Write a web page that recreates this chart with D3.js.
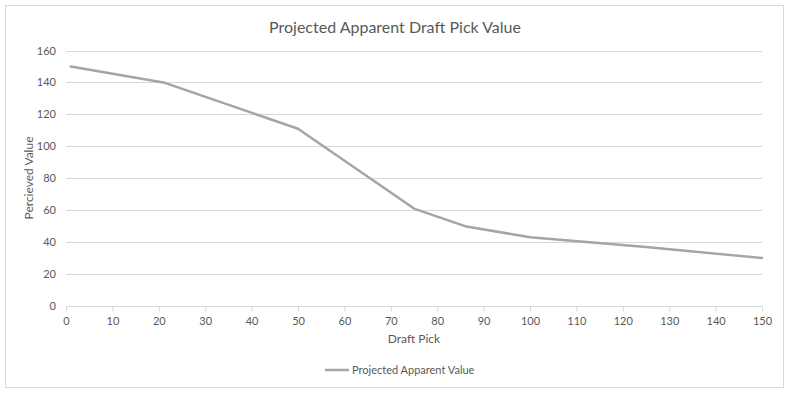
<!DOCTYPE html>
<html><head><meta charset="utf-8">
<script src="https://cdn.jsdelivr.net/npm/d3@7"></script>
<style>body{margin:0;background:#fff}svg{display:block}text{font-family:Lato,"Open Sans",sans-serif;fill:#595959}</style>
</head><body>
<script>
const picks = [1, 21, 50, 75, 86, 100, 125, 150];
const values = [150, 140, 111, 61, 50, 43, 37, 30];
const xTicks = d3.range(0, 151, 10);
const yTicks = d3.range(0, 161, 20);
const title = "Projected Apparent Draft Pick Value";
const seriesName = "Projected Apparent Value";

const W = 789, H = 394;
const svg = d3.select("body").append("svg").attr("width", W).attr("height", H);
svg.append("rect").attr("x", 5.5).attr("y", 5.5).attr("width", 778).attr("height", 382)
  .attr("fill", "#fff").attr("stroke", "#d9d9d9");

const x = d3.scaleLinear().domain([0, 150]).range([66, 762]);
const y = d3.scaleLinear().domain([0, 160]).range([306, 50.5]);

svg.append("g").selectAll("line").data(yTicks.filter(d => d > 0)).join("line")
  .attr("x1", x(0)).attr("x2", x(150)).attr("y1", d => Math.round(y(d)) + 0.5).attr("y2", d => Math.round(y(d)) + 0.5)
  .attr("stroke", "#d9d9d9");

const xa = svg.append("g").attr("transform", `translate(0,${Math.round(y(0)) + 0.5})`)
  .call(d3.axisBottom(x).tickValues(xTicks).tickSize(5).tickPadding(6));
xa.select(".domain").attr("stroke", "#d9d9d9").attr("d", `M${x(0)},0H${x(150)}`);
xa.selectAll(".tick line").attr("stroke", "#d9d9d9");
xa.selectAll("text").attr("font-size", 11).style("fill", "#595959");

const ya = svg.append("g").attr("transform", `translate(${x(0)},0)`)
  .call(d3.axisLeft(y).tickValues(yTicks).tickSize(0).tickPadding(10));
ya.select(".domain").remove();
ya.selectAll("text").attr("font-size", 11).style("fill", "#595959");

svg.append("path").datum(picks.map((p, i) => [p, values[i]]))
  .attr("fill", "none").attr("stroke", "#a5a5a5").attr("stroke-width", 2.5)
  .attr("stroke-linejoin", "round").attr("stroke-linecap", "round")
  .attr("d", d3.line().x(d => x(d[0])).y(d => y(d[1])));

svg.append("text").attr("x", 395).attr("y", 33).attr("text-anchor", "middle")
  .attr("font-size", 16).text(title);
svg.append("text").attr("x", 414).attr("y", 343).attr("text-anchor", "middle")
  .attr("font-size", 12).text("Draft Pick");
svg.append("text").attr("transform", "translate(33,178) rotate(-90)").attr("text-anchor", "middle")
  .attr("font-size", 12).text("Percieved Value");

svg.append("line").attr("x1", 325).attr("x2", 349).attr("y1", 370).attr("y2", 370)
  .attr("stroke", "#a5a5a5").attr("stroke-width", 2.5);
svg.append("text").attr("x", 352).attr("y", 374).attr("font-size", 11).text(seriesName);
</script>
</body></html>
